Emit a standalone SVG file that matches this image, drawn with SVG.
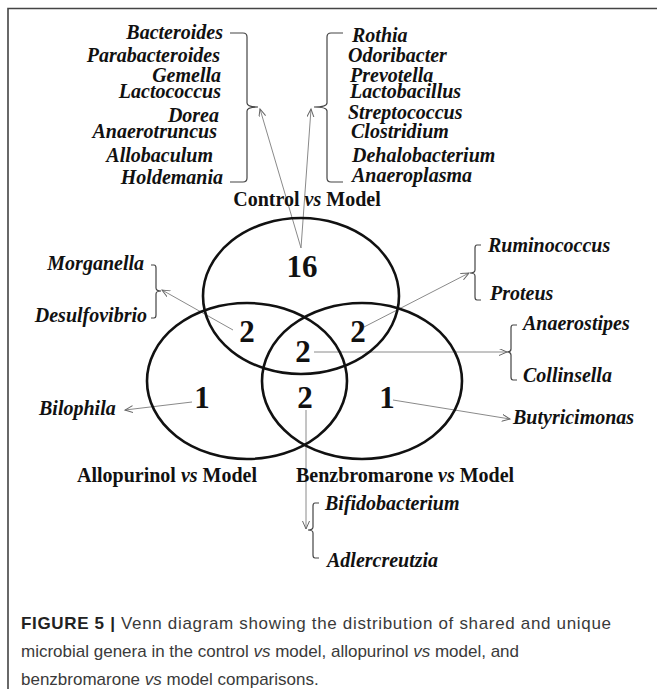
<svg xmlns="http://www.w3.org/2000/svg" width="657" height="689" viewBox="0 0 657 689">
<defs>
<style>
.sp{font-family:"Liberation Serif","Times New Roman",serif;font-weight:bold;font-style:italic;font-size:20px;fill:#111}
.num{font-family:"Liberation Serif","Times New Roman",serif;font-weight:bold;font-size:31px;fill:#111;text-anchor:middle}
.lab{font-family:"Liberation Serif","Times New Roman",serif;font-weight:bold;font-size:20px;fill:#111}
.vs{font-style:italic}
.circ{fill:none;stroke:#111;stroke-width:2.6}
.br{fill:none;stroke:#444;stroke-width:1.2}
.ar{fill:none;stroke:#8a8a8a;stroke-width:1;marker-end:url(#ah)}
.cap{font-family:"Liberation Sans",Arial,sans-serif;font-size:17px;fill:#3a3a3a}
.frame{stroke:#444;stroke-width:1.6;fill:none}
</style>
<marker id="ah" markerWidth="10" markerHeight="8" refX="8" refY="3.5" orient="auto" markerUnits="userSpaceOnUse">
<path d="M0,0 L8,3.5 L0,7" fill="none" stroke="#666" stroke-width="1"/>
</marker>
</defs>
<rect width="657" height="689" fill="#fff"/>
<path class="frame" d="M8,689 L8,8.5 L657,8.5"/>

<g id="connectors">
<line class="ar" x1="301" y1="248" x2="260" y2="109"/>
<line class="ar" x1="301" y1="248" x2="311" y2="109"/>
<line class="ar" x1="233" y1="330" x2="162" y2="290"/>
<line class="ar" x1="192" y1="402" x2="125" y2="410"/>
<line class="ar" x1="364" y1="327" x2="469" y2="273"/>
<line class="ar" x1="314" y1="352" x2="507" y2="352"/>
<line class="ar" x1="393" y1="400" x2="510" y2="419"/>
<line class="ar" x1="306" y1="410" x2="306" y2="529"/>
</g>

<g id="venn-control">
<ellipse class="circ" cx="301" cy="296" rx="98" ry="78"/>
<text class="num" x="302" y="277">16</text>
<text class="lab" x="307" y="206" text-anchor="middle">Control<tspan class="vs"> vs </tspan>Model</text>
</g>
<g id="venn-allopurinol">
<ellipse class="circ" cx="247" cy="381" rx="100" ry="78"/>
<text class="num" x="202" y="408">1</text>
<text class="lab" x="77" y="482">Allopurinol<tspan class="vs"> vs </tspan>Model</text>
</g>
<g id="venn-benzbromarone">
<ellipse class="circ" cx="362" cy="381" rx="100" ry="78"/>
<text class="num" x="387" y="408">1</text>
<text class="lab" x="296" y="482">Benzbromarone<tspan class="vs"> vs </tspan>Model</text>
</g>
<g id="overlaps">
<text class="num" x="247" y="342">2</text>
<text class="num" x="358" y="342">2</text>
<text class="num" x="303" y="362">2</text>
<text class="num" x="305" y="408">2</text>
</g>

<g id="list-control-left">
<path class="br" d="M230,33 L243,33 Q247,33 247,37 L247,103 Q247,107 258,107 Q247,107 247,111 L247,178 Q247,182 243,182 L230,182"/>
<g class="sp" text-anchor="end">
<text x="223" y="39">Bacteroides</text>
<text x="220" y="62">Parabacteroides</text>
<text x="221" y="82">Gemella</text>
<text x="221" y="98">Lactococcus</text>
<text x="219" y="122">Dorea</text>
<text x="217" y="138">Anaerotruncus</text>
<text x="213" y="162">Allobaculum</text>
<text x="223" y="184">Holdemania</text>
</g>
</g>

<g id="list-control-right">
<path class="br" d="M343,33 L331,33 Q327,33 327,37 L327,103 Q327,107 314,107 Q327,107 327,111 L327,178 Q327,182 331,182 L343,182"/>
<g class="sp">
<text x="352" y="42">Rothia</text>
<text x="348" y="62">Odoribacter</text>
<text x="350" y="82">Prevotella</text>
<text x="350" y="98">Lactobacillus</text>
<text x="348" y="119">Streptococcus</text>
<text x="351" y="138">Clostridium</text>
<text x="352" y="162">Dehalobacterium</text>
<text x="352" y="182">Anaeroplasma</text>
</g>
</g>

<g id="list-morganella">
<path class="br" d="M151,265 L154,265 Q156,265 156,268 L156,288 Q156,291 161,291 Q156,291 156,294 L156,315 Q156,318 154,318 L151,318"/>
<text class="sp" x="144" y="270" text-anchor="end">Morganella</text>
<text class="sp" x="147" y="322" text-anchor="end">Desulfovibrio</text>
</g>

<g id="list-bilophila">
<text class="sp" x="39" y="415">Bilophila</text>
</g>

<g id="list-ruminococcus">
<path class="br" d="M481,245 L477,245 Q475,245 475,248 L475,270 Q475,273 470,273 Q475,273 475,276 L475,297 Q475,300 477,300 L481,300"/>
<text class="sp" x="488" y="252">Ruminococcus</text>
<text class="sp" x="490" y="300">Proteus</text>
</g>

<g id="list-anaerostipes">
<path class="br" d="M517,325 L513,325 Q511,325 511,328 L511,349 Q511,352 507,352 Q511,352 511,355 L511,377 Q511,380 513,380 L517,380"/>
<text class="sp" x="523" y="330">Anaerostipes</text>
<text class="sp" x="523" y="382">Collinsella</text>
</g>

<g id="list-butyricimonas">
<text class="sp" x="513" y="424">Butyricimonas</text>
</g>

<g id="list-bifidobacterium">
<path class="br" d="M319,503 L315,503 Q313,503 313,506 L313,527 Q313,530 308,530 Q313,530 313,533 L313,555 Q313,558 315,558 L319,558"/>
<text class="sp" x="325" y="510">Bifidobacterium</text>
<text class="sp" x="327" y="567">Adlercreutzia</text>
</g>

<g id="caption">
<text class="cap" x="21" y="629" textLength="590" lengthAdjust="spacing"><tspan font-weight="bold" fill="#222">FIGURE 5 |</tspan> Venn diagram showing the distribution of shared and unique</text>
<text class="cap" x="21" y="657">microbial genera in the control <tspan font-style="italic">vs</tspan> model, allopurinol <tspan font-style="italic">vs</tspan> model, and</text>
<text class="cap" x="21" y="685">benzbromarone <tspan font-style="italic">vs</tspan> model comparisons.</text>
</g>
</svg>
